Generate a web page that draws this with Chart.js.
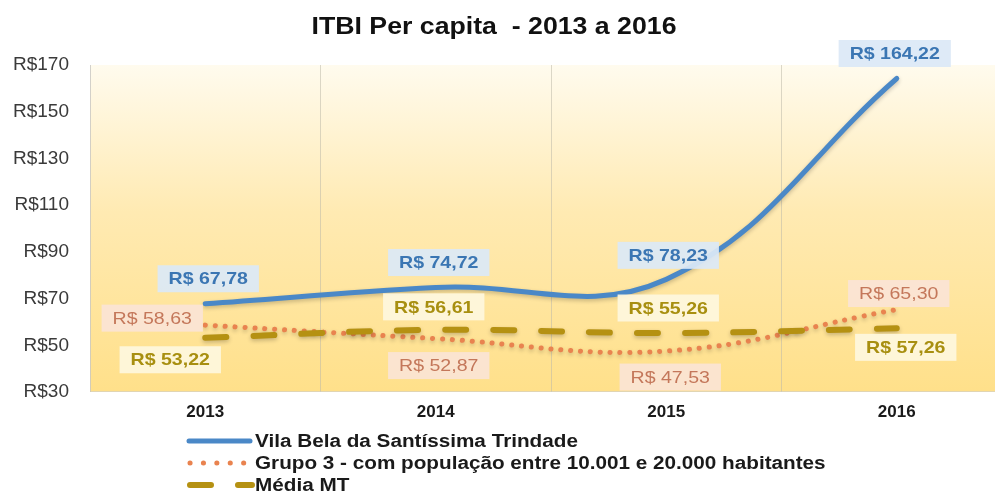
<!DOCTYPE html>
<html><head><meta charset="utf-8">
<script src="https://cdn.jsdelivr.net/npm/chart.js@4.4.1/dist/chart.umd.min.js"></script>
<style>
html,body{margin:0;padding:0;background:#fff;overflow:hidden;width:995px;height:493px;}
#wrap{position:relative;width:1016px;height:493px;}
canvas{display:block;}
</style></head><body>
<div id="wrap"><canvas id="c" width="1016" height="493"></canvas></div>
<script>
// ---- data ----
const categories = ['2013', '2014', '2015', '2016'];
const vilaBela = [67.78, 74.72, 78.23, 164.22];
const grupo3 = [58.63, 52.87, 47.53, 65.30];
const mediaMT = [53.22, 56.61, 55.26, 57.26];
const yTickValues = [30, 50, 70, 90, 110, 130, 150, 170];
const seriesNames = ['Vila Bela da Santíssima Trindade', 'Grupo 3 - com população entre 10.001 e 20.000 habitantes', 'Média MT'];
const chartTitle = 'ITBI Per capita  - 2013 a 2016';

// ---- styles ----
const FONT = '"Liberation Sans", Arial, sans-serif';
const colors = ['#4a88c7', '#e9834f', '#b59112'];
const labelStyles = [
  {dx: [3, 3, 2, -2], dy: [-25, -25, -24, -25], bg: 'rgba(219,232,246,0.93)', color: '#3b76b3', bold: true},
  {dx: [-53, 3, 4, 2], dy: [-7, 27, 26, -16], bg: 'rgba(250,228,216,0.88)', color: '#c4775a', bold: false},
  {dx: [-35, -2, 2, 9], dy: [22, -23, -25, 19], bg: 'rgba(254,247,222,0.92)', color: '#a88f10', bold: true}
];

function fmt(v) { return 'R$ ' + v.toFixed(2).replace('.', ','); }

function stretchText(ctx, text, x, y, sx, align) {
  ctx.save();
  ctx.translate(x, y);
  ctx.scale(sx, 1);
  ctx.textAlign = align;
  ctx.fillText(text, 0, 0);
  ctx.restore();
}

const bgPlugin = {
  id: 'bgPlugin',
  beforeDraw(chart) {
    const {ctx, chartArea: a} = chart;
    ctx.save();
    ctx.fillStyle = '#ffffff';
    ctx.fillRect(0, 0, chart.width, chart.height);
    const g = ctx.createLinearGradient(0, a.top, 0, a.bottom);
    g.addColorStop(0, '#fffbee');
    g.addColorStop(0.45, '#ffeab2');
    g.addColorStop(1, '#ffe08a');
    ctx.fillStyle = g;
    ctx.fillRect(a.left, a.top, a.right - a.left, a.bottom - a.top);
    ctx.restore();
  },
  beforeDatasetDraw(chart) {
    const ctx = chart.ctx;
    ctx.save();
    ctx.shadowColor = 'rgba(0,0,0,0.22)';
    ctx.shadowBlur = 4;
    ctx.shadowOffsetY = 2;
  },
  afterDatasetDraw(chart) {
    chart.ctx.restore();
  },
  afterDatasetsDraw(chart) {
    const ctx = chart.ctx;
    ctx.save();
    chart.data.datasets.forEach((ds, d) => {
      const st = labelStyles[d];
      const meta = chart.getDatasetMeta(d);
      meta.data.forEach((pt, j) => {
        const text = fmt(ds.data[j]);
        ctx.font = (st.bold ? 'bold ' : '') + '17px ' + FONT;
        const sx = 1.15;
        const w = ctx.measureText(text).width * sx;
        const cx = pt.x + st.dx[j], cy = pt.y + st.dy[j];
        const bw = w + 22, bh = 27;
        ctx.fillStyle = st.bg;
        ctx.fillRect(cx - bw / 2, cy - bh / 2, bw, bh);
        ctx.fillStyle = st.color;
        ctx.textBaseline = 'middle';
        stretchText(ctx, text, cx, cy + 1, sx, 'center');
      });
    });
    ctx.restore();
  },
  afterDraw(chart) {
    const ctx = chart.ctx;
    ctx.save();
    // title
    ctx.fillStyle = '#111111';
    ctx.font = 'bold 24px ' + FONT;
    ctx.textBaseline = 'alphabetic';
    const tw = ctx.measureText(chartTitle).width;
    stretchText(ctx, chartTitle, 494, 34, 365 / tw, 'center');
    // legend
    const rows = [441, 463, 485];
    chart.data.datasets.forEach((ds, d) => {
      const y = rows[d];
      ctx.save();
      ctx.strokeStyle = ds.borderColor;
      ctx.lineWidth = ds.borderWidth;
      ctx.lineCap = ds.borderCapStyle || 'butt';
      if (d === 1) ctx.setLineDash([0.1, 13.3]);
      else ctx.setLineDash(ds.borderDash || []);
      ctx.beginPath();
      ctx.moveTo(d === 0 ? 189 : 190, y);
      ctx.lineTo(d === 0 ? 250 : 252, y);
      ctx.stroke();
      ctx.restore();
      ctx.fillStyle = '#1a1a1a';
      ctx.font = 'bold 18px ' + FONT;
      ctx.textBaseline = 'middle';
      stretchText(ctx, seriesNames[d], 255, y + 1, 1.15, 'left');
    });
    // plot border
    const a = chart.chartArea;
    ctx.strokeStyle = 'rgba(205,205,205,0.6)';
    ctx.lineWidth = 1;
    ctx.beginPath();
    ctx.moveTo(a.left + 0.5, a.top);
    ctx.lineTo(a.left + 0.5, a.bottom - 0.5);
    ctx.lineTo(a.right, a.bottom - 0.5);
    ctx.stroke();
    ctx.restore();
  }
};

new Chart(document.getElementById('c'), {
  type: 'line',
  data: {
    labels: categories,
    datasets: [
      {label: seriesNames[0], data: vilaBela, borderColor: colors[0], borderWidth: 5, borderCapStyle: 'round', tension: 0.4, pointRadius: 0, order: 2},
      {label: seriesNames[1], data: grupo3, borderColor: colors[1], borderWidth: 5, borderDash: [0.1, 9.8], borderCapStyle: 'round', tension: 0.4, pointRadius: 0, order: 1},
      {label: seriesNames[2], data: mediaMT, borderColor: colors[2], borderWidth: 6, borderDash: [21, 27], borderCapStyle: 'round', tension: 0.4, pointRadius: 0, order: 0}
    ]
  },
  options: {
    responsive: false,
    animation: false,
    devicePixelRatio: 1,
    layout: {padding: {top: 65, bottom: 68, left: 0, right: 4}},
    plugins: {legend: {display: false}, title: {display: false}, tooltip: {enabled: false}},
    scales: {
      x: {
        offset: true,
        grid: {display: true, offset: true, color: 'rgba(190,185,170,0.55)', drawTicks: false},
        border: {display: false},
        ticks: {color: '#1a1a1a', font: {family: FONT, size: 17, weight: 'bold'}, padding: 10},
        afterFit(scale) { scale.height = 33; }
      },
      y: {
        min: 30, max: 170,
        afterBuildTicks(scale) { scale.ticks = yTickValues.map(v => ({value: v})); },
        grid: {display: false, drawTicks: false},
        border: {display: false},
        ticks: {color: '#3a3a3a', font: {family: FONT, size: 19}, padding: 21, callback: v => 'R$' + v},
        afterFit(scale) { scale.width = 90; }
      }
    }
  },
  plugins: [bgPlugin]
});
</script>
</body></html>
